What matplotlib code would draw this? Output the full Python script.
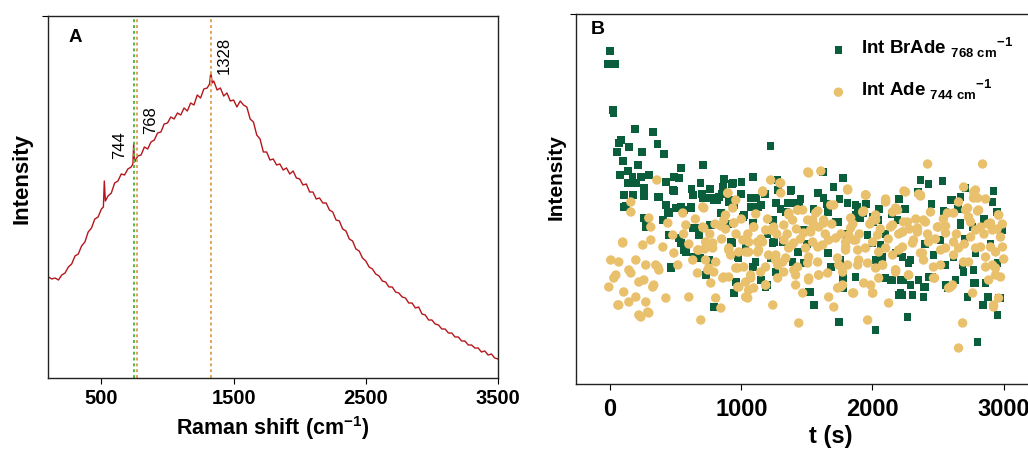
import matplotlib
matplotlib.use("Agg")
import matplotlib.pyplot as plt
import numpy as np

plt.rcParams['font.family'] = ['Liberation Sans', 'DejaVu Sans']
plt.rcParams['mathtext.fontset'] = 'custom'
plt.rcParams['mathtext.rm'] = 'Liberation Sans'
plt.rcParams['mathtext.bf'] = 'Liberation Sans:bold'

# ---- panel A: Raman spectrum (intensity in arbitrary units) ----
raman_shift = [100, 125, 150, 175, 200, 225, 250, 275, 300, 325, 350, 375, 400, 425, 450, 475,
               500, 515, 522, 530, 550, 575, 600, 625, 650, 675, 700, 725, 738, 744, 751, 775,
               800, 825, 850, 875, 900, 925, 950, 975, 1000, 1025, 1050, 1075, 1100, 1125, 1150,
               1175, 1200, 1225, 1250, 1275, 1300, 1318, 1328, 1338, 1350, 1375, 1400, 1425, 1450,
               1475, 1500, 1525, 1550, 1575, 1600, 1625, 1650, 1675, 1700, 1725, 1750, 1775, 1800,
               1825, 1850, 1875, 1900, 1925, 1950, 1975, 2000, 2025, 2050, 2075, 2100, 2125, 2150,
               2175, 2200, 2225, 2250, 2275, 2300, 2325, 2350, 2375, 2400, 2425, 2450, 2475, 2500,
               2525, 2550, 2575, 2600, 2625, 2650, 2675, 2700, 2725, 2750, 2775, 2800, 2825, 2850,
               2875, 2900, 2925, 2950, 2975, 3000, 3025, 3050, 3075, 3100, 3125, 3150, 3175, 3200,
               3225, 3250, 3275, 3300, 3325, 3350, 3375, 3400, 3425, 3450, 3475, 3500]
raman_int = [101, 99, 100, 98, 103, 105, 111, 114, 122, 124, 132, 136, 146, 150, 159, 161,
             169, 171, 197, 177, 182, 185, 195, 197, 204, 203, 209, 211, 214, 234, 216, 222,
             223, 231, 229, 236, 238, 245, 246, 254, 255, 261, 259, 265, 263, 270, 267,
             275, 273, 283, 280, 289, 290, 294, 306, 295, 297, 288, 290, 282, 285,
             277, 278, 271, 277, 273, 271, 259, 256, 243, 239, 226, 226, 218, 219,
             213, 214, 208, 210, 204, 207, 200, 199, 193, 194, 186, 186, 179, 180,
             175, 175, 168, 166, 158, 157, 149, 147, 139, 137, 129, 127, 120, 117,
             111, 109, 104, 102, 97, 96, 91, 91, 86, 85, 81, 80, 75, 75,
             70, 71, 64, 63, 58, 58, 54, 53, 49, 49, 45, 45, 41, 41,
             37, 37, 33, 33, 30, 30, 26, 27, 23, 24, 20, 19]
peaks = [744, 768, 1328]
peak_colors = ['#4cbb4c', '#e0a458', '#e0a458']

# ---- panel B: band intensities vs time ----
brade_t = [0, -15, 35, 20, 25, 190, 325, 82, 66, 143, 362, 51, 241, 411, 96, 211, 539, 135, 74, 172,
           234, 295, 486, 524, 135, 196, 425, 257, 486, 630, 172, 363, 1224, 706, 867, 937, 1003, 1087,
           690, 1276, 1375, 1625, 1773, 1703, 1583, 2367, 2428, 2535, 2923, 2672, 2200, 104, 119, 257,
           372, 272, 402, 448, 478, 539, 615, 744, 790, 828, 905, 943, 1011, 1072, 1110, 1148, 1087,
           463, 463, 539, 577, 630, 676, 729, 752, 767, 790, 920, 943, 973, 1087, 1148, 1186, 1224,
           1247, 1354, 1377, 1438, 1476, 1430, 1476, 1514, 1552, 1628, 1659, 1720, 1659, 1682, 1743,
           1773, 1811, 1872, 1887, 1872, 1933, 1963, 2001, 2001, 2009, 2024, 2062, 2077, 2100, 2153,
           2176, 2214, 2237, 2267, 2290, 2305, 2343, 2351, 2389, 2427, 2465, 2519, 2557, 2573, 2595,
           2618, 2672, 2695, 2710, 2725, 2771, 2786, 2801, 2839, 2877, 2915, 2976, 2953, 2991, 2953,
           2786, 928, 861, 706, 767, 820, 1072, 1278, 1263, 1339, 1132, 904, 1019, 845, 1240, 1415,
           757, 1887, 1735, 1872, 1909, 2047, 1468, 1437, 2351, 2610, 2542, 2672, 2763, 2976, 2191,
           2275, 2214, 2290, 2229, 2404, 2389, 2458, 2557, 2633, 2694, 2770, 2862, 2884, 2961, 2846,
           2229, 2557, 2686, 1528, 1871, 1780, 2199, 1429, 1666, 1757, 2024, 2138, 958, 1109, 1200,
           1262, 690, 934, 980, 1033, 1239, 1315, 1391, 104, 173, 257, 272, 424, 439, 500, 561, 615,
           447, 523, 561, 462, 652, 637,
           620, 700, 760, 850, 1000, 1180, 1300, 1450, 1550, 1650, 1750, 1950, 2050, 2150, 2250,
           2450, 2650, 2850, 2950, 900, 1200, 1500, 1800, 2100, 2400, 2700, 2900]
brade_int = [333, 320, 320, 274, 271, 255, 252, 244, 241, 237, 240, 232, 232, 230, 223, 219, 216, 213, 209, 207,
             207, 209, 207, 206, 201, 201, 202, 196, 193, 189, 189, 187, 238, 219, 205, 201, 202, 207,
             201, 204, 193, 212, 206, 197, 191, 204, 200, 203, 193, 187, 185, 189, 178, 188,
             187, 162, 164, 171, 194, 177, 177, 186, 184, 187, 184, 179, 167, 177, 186, 179, 161,
             149, 116, 141, 132, 156, 149, 109, 124, 159, 77, 142, 91, 127, 117, 104, 97, 126,
             142, 181, 194, 179, 154, 132, 121, 92, 79, 186, 172, 162, 131, 117, 62,
             106, 181, 179, 166, 107, 171, 149, 167, 141, 162, 54, 139, 127, 106, 104,
             131, 91, 104, 67, 124, 89, 192, 104, 97, 107, 129, 144, 172, 96, 184,
             127, 161, 112, 196, 87, 114, 101, 42, 79, 87, 182, 86, 69, 154, 121,
             131, 200, 197, 186, 186, 184, 186, 194, 181, 172, 177, 182, 169, 171, 164, 181,
             159, 177, 162, 169, 166, 164, 154, 174, 192, 184, 173, 159, 157, 152, 164,
             121, 104, 99, 89, 97, 87, 107, 99, 104, 112, 101, 101, 87, 86, 79,
             127, 119, 119, 92, 107, 96, 89, 132, 131, 124, 124, 104, 102, 122, 99,
             112, 126, 141, 126, 136, 141, 142, 122, 177, 189, 166, 157, 179, 172, 176, 174, 176,
             149, 146, 134, 117, 156, 127,
             195, 190, 195, 190, 190, 190, 175, 185, 175, 180, 185, 180, 175, 170, 175,
             180, 175, 165, 172, 160, 150, 140, 150, 150, 140, 145, 140]

ade_t = [356, 1224, 1294, 1507, 1606, 1163, 1810, 1950, 2420, 2839, 2240, 2352, 2695, 2785, 2100, 898,
         5, -10, 59, 96, 104, 28, 143, 158, 158, 196, 219, 249, 257, 287, 310, 325, 348, 372, 402, 425,
         440, 478, 486, 516, 554, 577, 600, 630, 668, 691, 706, 714, 744, 782, 805, 844, 859, 867, 897,
         905, 943, 958, 981, 1011, 1034, 1049, 1072, 1095, 1125, 1163, 1186, 1224, 1240, 1263, 1278,
         1301, 1324, 1339, 1362, 1385, 1400, 1430, 1438, 1468, 1506, 1514, 1529, 1567, 1583, 1590,
         1628, 1666, 1682, 1705, 1720, 1743, 1758, 1796, 1811, 1819, 1849, 1872, 1895, 1925, 1933,
         1948, 1963, 2001, 2024, 2039, 2077, 2100, 2123, 2138, 2153, 2176, 2199, 2229, 2237, 2252,
         2275, 2305, 2343, 2366, 2381, 2404, 2442, 2465, 2495, 2519, 2557, 2572, 2595, 2618, 2656,
         2656, 2687, 2710, 2733, 2748, 2771, 2801, 2809, 2824, 2862, 2885, 2900, 2923, 2938, 2961,
         2976, 2991, 2976, 96, 66, 44, 196, 158, 219, 272, 333, 363, 310, 295, 66, 143, 272, 234, 295,
         1300, 958, 714, 935, 880, 942, 845, 706, 1094, 1186, 1247, 1324, 1391, 1362, 1429,
         1514, 1947, 2100, 1705, 1468, 1583, 2191, 1544, 1628, 1834, 1933, 2024, 2001, 2153, 1475,
         1590, 1833, 1528, 2366, 2770, 2862, 2656, 2725, 2801, 2961, 2176, 2618, 2732, 2267, 2389,
         2503, 2557, 2343, 2229, 2748, 2786, 2824, 2915, 2313, 2229, 2427, 2557, 2618, 2694, 2786,
         2900, 2862, 2938, 2915, 2366, 2389, 2465, 2519, 2176, 2275, 2473, 2580, 2610, 2763, 2923,
         2938, 2961, 1513, 1590, 1734, 1772, 1856, 1986, 2001, 1658, 1772, 1887, 1963, 2024, 2077,
         2047, 2176, 1429, 1506, 1582, 1513, 1490, 1544, 1620, 1666, 1795, 1856, 1795, 1887, 1947,
         2001, 2047, 2100, 2153, 1734, 1810, 728, 782, 675, 666, 728, 752, 790, 805, 767, 866, 904,
         904, 919, 972, 1018, 1056, 1124, 1162, 980, 1056, 1132, 1208, 1262, 1315, 1361, 1399, 1185,
         1147, 1071, 972, 1033, 1056, 1094, 1033, 1185, 1277, 1323, 1414, 1414,
         560, 600, 650, 720, 760, 800, 850, 880, 960, 1000, 1050, 1110, 1150, 1200, 1270, 1350,
         1420, 1450, 1550, 1640, 1690, 1760, 1850, 1900, 1980, 2060, 2120, 2200, 2280, 2330, 2420,
         2480, 2540, 2640, 2700, 2850, 2880, 2950, 3000, 2990]
ade_int = [204, 204, 201, 212, 213, 193, 195, 189, 220, 220, 193, 190, 197, 194, 185, 191,
           124, 97, 79, 142, 92, 106, 114, 182, 172, 87, 69, 139, 104, 72, 157, 97, 119, 114, 137, 86,
           161, 149, 131, 119, 171, 159, 87, 124, 134, 64, 177, 156, 114, 141, 86, 76, 106, 164, 191,
           136, 161, 116, 97, 144, 132, 86, 106, 157, 132, 192, 99, 154, 79, 129, 119,
           191, 144, 126, 171, 139, 114, 174, 61, 91, 164, 106, 152, 171, 137, 109,
           161, 87, 179, 77, 146, 119, 97, 137, 194, 149, 91, 144, 124, 172, 101,
           189, 64, 91, 164, 149, 119, 182, 81, 157, 172, 112, 134, 152, 162, 192,
           109, 141, 152, 189, 131, 162, 172, 106, 157, 134, 151, 171, 97, 142, 136,
           36, 61, 174, 122, 147, 192, 186, 174, 137, 117, 104, 161, 79, 132, 169,
           107, 137, 147, 141, 122, 109, 124, 111, 102, 119, 99, 117, 144, 166, 79, 82, 82, 67, 71,
           201, 184, 176, 176, 169, 161, 158, 157, 157, 154, 157, 159, 164, 169, 174,
           211, 189, 183, 179, 174, 173, 174, 164, 164, 166, 173, 169, 164, 159, 151,
           157, 156, 154, 188, 186, 185, 182, 176, 173, 169, 176, 171, 167, 162, 164,
           157, 158, 156, 152, 162, 154, 157, 154, 144, 137, 142, 136, 129, 122, 136,
           137, 127, 116, 119, 131, 124, 117, 119, 114, 109, 106, 96, 99, 91, 77,
           109, 86, 104, 109, 96, 99, 91, 99, 91, 111, 112, 119, 121, 116, 119,
           106, 114, 117, 121, 122, 127, 136, 142, 139, 144, 142, 144, 134, 134, 136,
           142, 132, 136, 129, 126, 119, 142, 136, 134, 111, 124, 116, 112, 122, 101, 107, 107,
           134, 129, 116, 117, 142, 142, 142, 132, 132, 134, 129, 124, 122, 136, 141, 117,
           112, 109, 97, 102, 94, 96, 87, 99, 106, 112, 109, 99,
           150, 140, 165, 135, 150, 160, 145, 155, 150, 165, 150, 170, 145, 165, 150, 150,
           155, 145, 160, 150, 160, 150, 160, 150, 160, 155, 145, 150, 155, 165, 150,
           145, 165, 150, 140, 150, 160, 155, 125, 160]

green = '#0b5e3c'
yellow = '#e9c06b'

fig = plt.figure(figsize=(10.28, 4.5), dpi=100)

# panel A
axA = fig.add_axes([48 / 1028, 72 / 450, 450 / 1028, 362 / 450])
axA.plot(raman_shift, raman_int, color='#b5161b', lw=1.0)
for p, c in zip(peaks, peak_colors):
    axA.axvline(p, color=c, ls=(0, (1.5, 1.5)), lw=1.4)
axA.set_xlim(96, 3500)
axA.set_ylim(0, 362)
axA.set_xticks([500, 1500, 2500, 3500])
axA.set_yticks([362])
axA.set_yticklabels([''])
axA.tick_params(axis='x', direction='out', length=4, labelsize=14.5, pad=4)
axA.tick_params(axis='y', direction='out', length=4)
for lab in axA.get_xticklabels():
    lab.set_fontweight('bold')
axA.set_xlabel(r'Raman shift (cm$^{\mathbf{-1}}$)', fontsize=15.5, fontweight='bold', labelpad=4)
axA.set_ylabel('Intensity', fontsize=16, fontweight='bold')
axA.yaxis.set_label_coords(-0.034, 0.55)
axA.text(0.06, 0.94, 'A', transform=axA.transAxes, fontsize=13.5, fontweight='bold',
         ha='center', va='center')
axA.text(peaks[0] - 106, 233, '744', rotation=90, fontsize=12, ha='center', va='center')
axA.text(peaks[1] + 102, 258, '768', rotation=90, fontsize=12, ha='center', va='center')
axA.text(peaks[2] + 104, 323, '1328', rotation=90, fontsize=12, ha='center', va='center')
for s in axA.spines.values():
    s.set_linewidth(1.0)
    s.set_color('#222222')

# panel B
axB = fig.add_axes([576 / 1028, 66 / 450, 509 / 1028, 370 / 450])
axB.scatter(brade_t, brade_int, marker='s', s=30, color=green, edgecolors='none',
            label=r'Int BrAde $_{\mathbf{768\ cm}}{}^{\mathbf{-1}}$')
axB.scatter(ade_t, ade_int, marker='o', s=46, color=yellow, edgecolors='none',
            label=r'Int Ade $_{\mathbf{744\ cm}}{}^{\mathbf{-1}}$')
axB.set_xlim(-260, 3620)
axB.set_ylim(0, 370)
axB.set_xticks([0, 1000, 2000, 3000])
axB.set_yticks([370])
axB.set_yticklabels([''])
axB.tick_params(axis='x', direction='out', length=4, labelsize=17, pad=6)
axB.tick_params(axis='y', direction='out', length=4)
for lab in axB.get_xticklabels():
    lab.set_fontweight('bold')
axB.set_xlabel('t (s)', fontsize=17, fontweight='bold', labelpad=3)
axB.set_ylabel('Intensity', fontsize=15, fontweight='bold')
axB.yaxis.set_label_coords(-0.02, 0.56)
axB.text(0.043, 0.957, 'B', transform=axB.transAxes, fontsize=14, fontweight='bold',
         ha='center', va='center')
axB.spines['right'].set_visible(False)
for s in axB.spines.values():
    s.set_linewidth(1.0)
    s.set_color('#222222')
leg = axB.legend(loc='upper left', bbox_to_anchor=(0.475, 0.975), frameon=False,
                 handlelength=0.8, handletextpad=0.8, labelspacing=0.95,
                 borderpad=0.2, prop={'weight': 'bold', 'size': 13.5})

fig.savefig('out.png', dpi=100)
